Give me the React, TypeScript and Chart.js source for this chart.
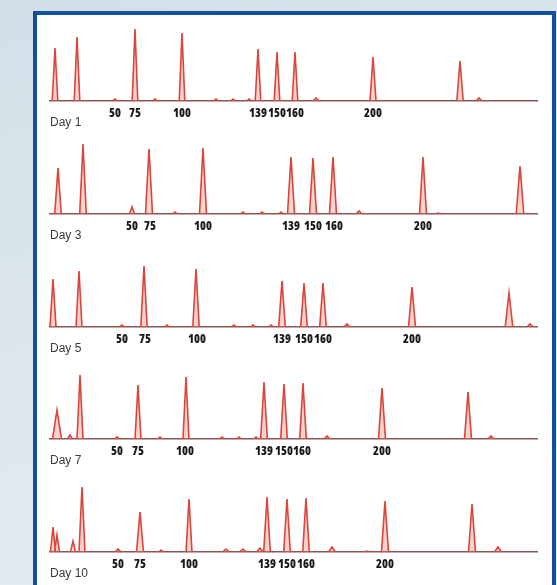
import React, { useEffect, useRef } from "react";
import { Chart, registerables } from "chart.js";

Chart.register(...registerables);

// Fragment sizes (bp) of the size-standard labels under each trace
const tickLabels = ["50", "75", "100", "139", "150", "160", "200"];

// Migration position (scan units) and peak height (RFU-like units) per day
const day1Pos = [6, 28, 66, 86, 106, 133, 167, 184, 200, 209, 228, 246, 267, 324, 411, 430];
const day1Height = [53, 64, 2, 72, 2, 68, 2, 2, 2, 52, 49, 49, 3, 44, 40, 3];
const day1Width = [2.8, 2.8, 2.5, 2.8, 2.5, 2.8, 2.5, 2.5, 2.5, 2.8, 2.8, 2.8, 3, 3, 3.2, 3];
const day1Ticks = [66, 86, 133, 209, 228, 246, 324];

const day3Pos = [9, 34, 83, 100, 126, 154, 194, 213, 232, 242, 264, 284, 310, 374, 389, 471];
const day3Height = [46, 70, 7, 65, 2, 66, 2, 2, 2, 57, 56, 57, 3, 57, 1, 48];
const day3Width = [3.3, 3.3, 2.5, 3.5, 2.5, 3.5, 2.5, 2.5, 2.5, 3.5, 3.5, 3.5, 3, 3.5, 2.5, 3.8];
const day3Ticks = [83, 101, 154, 242, 264, 285, 374];

const day5Pos = [4, 30, 73, 95, 118, 147, 185, 204, 222, 233, 255, 274, 298, 363, 460, 481];
const day5Height = [48, 56, 2, 61, 2, 58, 2, 2, 2, 46, 44, 44, 3, 40, 34, 3];
const day5Width = [3, 3, 2.5, 3.2, 2.5, 3.2, 2.5, 2.5, 2.5, 3.3, 3.3, 3.3, 3, 3.5, 3.8, 3];
const day5Ticks = [73, 96, 148, 233, 255, 274, 363];

const day7Pos = [8, 21, 31, 68, 89, 111, 137, 173, 190, 207, 215, 235, 254, 278, 333, 419, 442];
const day7Height = [29, 4, 64, 2, 54, 2, 62, 2, 2, 2, 57, 55, 56, 3, 51, 47, 3];
const day7Width = [4.5, 2.5, 3, 2.5, 3, 2.5, 3, 2.5, 2.5, 2.5, 3.3, 3.3, 3.3, 3, 3.5, 3.5, 3];
const day7Ticks = [68, 89, 136, 215, 235, 253, 333];

const day10Pos = [4, 8, 24, 33, 69, 91, 112, 140, 177, 194, 211, 218, 238, 257, 283, 318, 336, 423, 449];
const day10Height = [25, 17, 11, 65, 3, 40, 2, 53, 3, 3, 4, 55, 53, 54, 5, 1, 51, 48, 5];
const day10Width = [2.5, 2.5, 2.5, 3, 3, 3.5, 2.5, 3, 3.5, 3.5, 3.5, 3.3, 3.3, 3.3, 3.5, 2.5, 3.5, 3.5, 3.5];
const day10Ticks = [69, 91, 140, 218, 238, 257, 336];

const dayNames = ["Day 1", "Day 3", "Day 5", "Day 7", "Day 10"];

type Trace = { pos: number[]; height: number[]; width: number[]; ticks: number[] };

const traces: Trace[] = [
  { pos: day1Pos, height: day1Height, width: day1Width, ticks: day1Ticks },
  { pos: day3Pos, height: day3Height, width: day3Width, ticks: day3Ticks },
  { pos: day5Pos, height: day5Height, width: day5Width, ticks: day5Ticks },
  { pos: day7Pos, height: day7Height, width: day7Width, ticks: day7Ticks },
  { pos: day10Pos, height: day10Height, width: day10Width, ticks: day10Ticks },
];

const BASELINES = [101, 214, 327, 439, 552];
const PLOT_LEFT = 49;
const PLOT_WIDTH = 489;
const PLOT_HEIGHT = 75;
const TOP_PAD = 5;
const AXIS_H = 28;
const X_MAX = 489;

function buildPoints(t: Trace) {
  const pts: { x: number; y: number | null }[] = [];
  t.pos.forEach((p, i) => {
    const w = t.width[i];
    pts.push({ x: p - w, y: 0 });
    pts.push({ x: p, y: t.height[i] });
    pts.push({ x: p + w, y: 0 });
    pts.push({ x: p + w + 0.01, y: null });
  });
  return pts;
}

function TracePanel({ trace, baseline }: { trace: Trace; baseline: number }) {
  const ref = useRef<HTMLCanvasElement>(null);
  useEffect(() => {
    if (!ref.current) return;
    const chart = new Chart(ref.current, {
      type: "line",
      data: {
        datasets: [
          {
            data: buildPoints(trace) as any,
            borderColor: "#d9463c",
            backgroundColor: "rgba(236,125,110,0.35)",
            borderWidth: 1.6,
            fill: "origin",
            pointRadius: 0,
            tension: 0,
            spanGaps: false,
          },
        ],
      },
      options: {
        animation: false,
        responsive: false,
        maintainAspectRatio: false,
        layout: { padding: { top: TOP_PAD, left: 0, right: 0, bottom: 0 } },
        plugins: { legend: { display: false }, tooltip: { enabled: false }, title: { display: false } },
        scales: {
          x: {
            type: "linear",
            min: 0,
            max: X_MAX,
            grid: { display: false, drawTicks: false },
            border: { display: true, color: "#8a5555", width: 1.5 },
            afterBuildTicks: (scale: any) => {
              scale.ticks = trace.ticks.map((v) => ({ value: v }));
            },
            afterFit: (scale: any) => {
              scale.height = AXIS_H;
            },
            ticks: {
              autoSkip: false,
              maxRotation: 0,
              minRotation: 0,
              padding: 5,
              color: "#1a1a1a",
              font: { family: '"Open Sans", "Liberation Sans", sans-serif', size: 12, weight: "800 condensed" },
              callback: (_v: any, i: number) => tickLabels[i],
            },
          },
          y: { display: false, min: 0, max: PLOT_HEIGHT },
        },
      },
    } as any);
    return () => chart.destroy();
  }, [trace]);
  return (
    <canvas
      ref={ref}
      width={PLOT_WIDTH}
      height={PLOT_HEIGHT + TOP_PAD + AXIS_H}
      style={{ position: "absolute", left: PLOT_LEFT, top: baseline - PLOT_HEIGHT - TOP_PAD, width: PLOT_WIDTH, height: PLOT_HEIGHT + TOP_PAD + AXIS_H }}
    />
  );
}

export default function App() {
  return (
    <div
      style={{
        position: "fixed",
        left: 0,
        top: 0,
        width: 557,
        height: 585,
        overflow: "hidden",
        background: "linear-gradient(160deg, #d3dfe7 0%, #dce6ec 45%, #e6eef3 100%)",
      }}
    >
      <div
        style={{
          position: "absolute",
          left: 33,
          top: 11,
          width: 523,
          height: 620,
          boxSizing: "border-box",
          border: "4px solid #11509c",
          background: "#ffffff",
        }}
      />
      {traces.map((t, i) => (
        <TracePanel key={i} trace={t} baseline={BASELINES[i]} />
      ))}
      {dayNames.map((d, i) => (
        <div
          key={d}
          style={{
            position: "absolute",
            left: 50,
            top: BASELINES[i] + 14,
            fontFamily: '"Liberation Sans", Arial, sans-serif',
            fontSize: 12,
            lineHeight: "14px",
            color: "#3a3a3a",
          }}
        >
          {d}
        </div>
      ))}
    </div>
  );
}
